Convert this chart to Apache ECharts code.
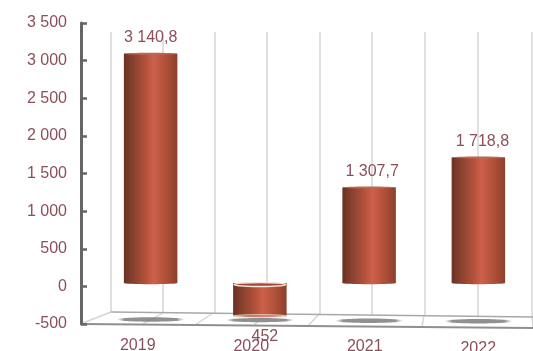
<!DOCTYPE html>
<html>
<head>
<meta charset="utf-8">
<style>html,body{margin:0;padding:0;background:#fff}#chart{width:533px;height:351px}</style>
<script src="https://cdn.jsdelivr.net/npm/echarts@6/dist/echarts.min.js"></script>
</head>
<body>
<div id="chart"></div>
<script>
// Yearly result with a pseudo-3D floor and cylinder columns.
const years = ['2019', '2020', '2021', '2022'];
const values = [3140.8, -452, 1307.7, 1718.8];
const valueLabels = ['3 140,8', '452', '1 307,7', '1 718,8'];
const axisMin = -500;
const axisMax = 3500;
const axisStep = 500;

// Layout of the receding floor and back wall.
const labelNudge = [[0, 0], [5, 5], [3, 0], [4, 0]];
const yearDrop = [0, 1, 1, 3];
const wallLines = [[111, 312], [163, 312], [215, 313], [267, 313], [320, 314], [372, 315], [425, 315], [478, 316], [532, 317]];
const floorDiagonals = [[111, 312, 83, 323], [163, 313, 143, 324], [213, 313, 195, 325], [267, 313, 254, 325], [319, 314, 308, 326], [424, 315, 422, 327], [532, 317, 533, 328]];
const textColor = '#8c4f5a';

const line = (x1, y1, x2, y2, stroke, lineWidth) => ({
  type: 'line', z: 0, silent: true,
  shape: { x1, y1, x2, y2 }, style: { stroke, lineWidth }
});

const cylinderFill = new echarts.graphic.LinearGradient(0, 0, 1, 0, [
  { offset: 0, color: '#6a3123' },
  { offset: 0.18, color: '#8a4230' },
  { offset: 0.42, color: '#b5523c' },
  { offset: 0.56, color: '#cd614b' },
  { offset: 0.8, color: '#ae4e37' },
  { offset: 1, color: '#8b402d' }
]);

const shadowFill = new echarts.graphic.LinearGradient(0, 0, 1, 0, [
  { offset: 0, color: 'rgba(130,130,130,0)' },
  { offset: 0.12, color: 'rgba(125,125,125,0.85)' },
  { offset: 0.88, color: 'rgba(125,125,125,0.85)' },
  { offset: 1, color: 'rgba(130,130,130,0)' }
]);

const chart = echarts.init(document.getElementById('chart'), null, { renderer: 'canvas' });
chart.setOption({
  animation: false,
  backgroundColor: '#fff',
  // Grid 0 carries the printed axes, grid 1 the columns on the back plane.
  grid: [
    { left: 81, top: 23, width: 454, height: 301, outerBoundsMode: 'none' },
    { left: 96, top: 27.5, width: 437, height: 292, outerBoundsMode: 'none' }
  ],
  xAxis: [
    {
      type: 'category', gridIndex: 0,
      data: years.map((y, i) => ({ value: y, textStyle: { padding: [yearDrop[i], 0, 0, 0] } })),
      axisLine: { show: false }, axisTick: { show: false },
      axisLabel: { color: textColor, fontFamily: 'Liberation Sans', fontSize: 16, margin: 14, interval: 0 }
    },
    { type: 'category', gridIndex: 1, data: years, show: false }
  ],
  yAxis: [
    {
      type: 'value', gridIndex: 0, min: axisMin, max: axisMax, interval: axisStep,
      axisLine: { show: true, onZero: false, lineStyle: { color: '#666', width: 3 } },
      axisTick: { show: true, inside: true, length: 6, lineStyle: { color: '#666', width: 2.5 } },
      splitLine: { show: false },
      axisLabel: {
        color: textColor, fontFamily: 'Liberation Sans', fontSize: 16, margin: 14,
        formatter: v => String(v).replace(/\B(?=(\d{3})+$)/g, ' ')
      }
    },
    { type: 'value', gridIndex: 1, min: axisMin, max: axisMax, interval: axisStep, show: false }
  ],
  graphic: { elements: [
    ...wallLines.map(([x, y]) => line(x, 32, x, y, '#d8d8d8', 1.6)),
    ...floorDiagonals.map(([a, b, c, d]) => line(a, b, c, d, '#d4d4d4', 1.4)),
    line(111, 312, 533, 317, '#a8a8a8', 1.4),
    line(81, 324, 533, 328, '#8f8f8f', 2)
  ] },
  series: [
    {
      // Soft shadows lying on the floor.
      type: 'custom', xAxisIndex: 1, yAxisIndex: 1, z: 1, silent: true,
      data: years.map((y, i) => [i, axisMin]),
      renderItem: (params, api) => {
        const p = api.coord([api.value(0), api.value(1)]);
        return {
          type: 'ellipse',
          shape: { cx: p[0], cy: p[1] + params.dataIndex * 0.6, rx: 34, ry: 2.2 },
          style: { fill: shadowFill }
        };
      }
    },
    {
      name: 'Result', type: 'bar', xAxisIndex: 1, yAxisIndex: 1, barWidth: 53.5, z: 3,
      data: values.map((v, i) => ({
        value: v,
        label: { offset: labelNudge[i], formatter: valueLabels[i] }
      })),
      itemStyle: { color: cylinderFill },
      label: {
        show: true, position: 'outside', distance: 8,
        color: textColor, fontFamily: 'Liberation Sans', fontSize: 16
      }
    },
    {
      // End caps that make each column read as a cylinder.
      type: 'custom', xAxisIndex: 1, yAxisIndex: 1, z: 4, silent: true,
      data: values.map((v, i) => [i, v]),
      renderItem: (params, api) => {
        const hw = 26.75;
        const v = api.value(1);
        const top = api.coord([api.value(0), Math.max(v, 0)]);
        const low = api.coord([api.value(0), Math.min(v, 0)]);
        const sunken = v < 0;
        return {
          type: 'group',
          children: [
            {
              type: 'ellipse',
              shape: { cx: low[0], cy: low[1], rx: hw, ry: 1.2 },
              style: { fill: cylinderFill, stroke: sunken ? '#f1e2d6' : 'rgba(0,0,0,0)', lineWidth: sunken ? 1 : 0 }
            },
            {
              type: 'ellipse',
              shape: { cx: top[0], cy: top[1] + (sunken ? 1.5 : 0), rx: sunken ? hw - 1 : hw, ry: sunken ? 2 : 1 },
              style: { fill: sunken ? '#a34a36' : '#c06650', stroke: sunken ? '#f4e8de' : 'rgba(0,0,0,0)', lineWidth: sunken ? 1.4 : 0 }
            }
          ]
        };
      }
    }
  ]
});
</script>
</body>
</html>
